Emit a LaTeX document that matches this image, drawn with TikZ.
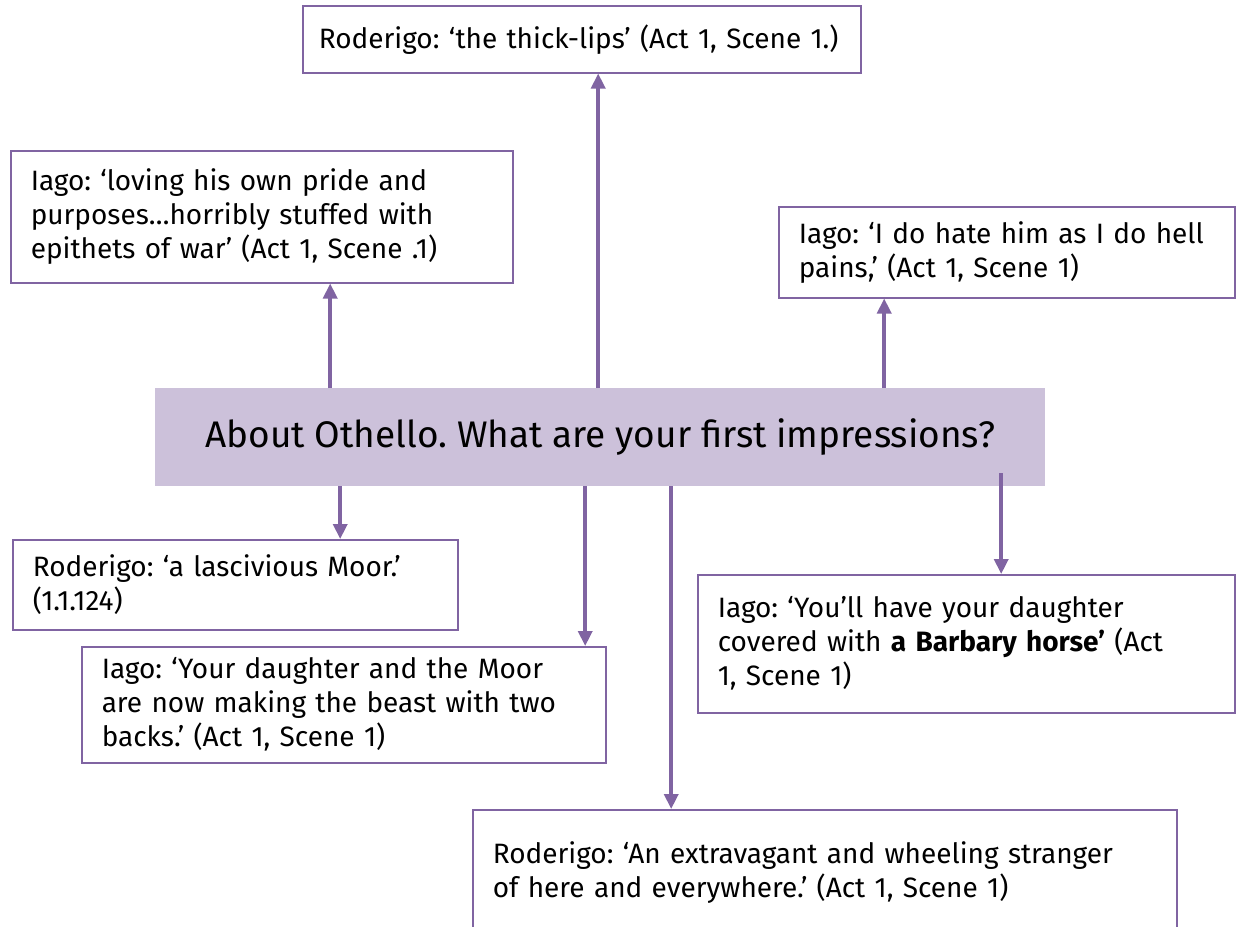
\documentclass[tikz,border=0pt]{standalone}
\usepackage{fontspec}
\setmainfont{Fira Sans}
\usepackage{xcolor}
\usepackage{tikz}
\usetikzlibrary{arrows.meta, positioning}
\frenchspacing
\definecolor{plum}{HTML}{8064A2}
\definecolor{lilac}{HTML}{CCC1DA}
\tikzstyle{quote} = [rectangle, draw=plum, line width=1.5pt, fill=white, anchor=north west, align=left, inner xsep=20pt, inner ysep=0pt, font=\fontsize{28}{34}\selectfont]
\tikzstyle{theme} = [rectangle, fill=lilac, anchor=north west, align=center, inner sep=0pt, font=\fontsize{37}{42}\selectfont]
\tikzstyle{arrow} = [draw=plum, line width=3.5pt, -{Triangle[width=14pt,length=15pt]}]

\begin{document}
\begin{tikzpicture}[x=1pt, y=-1pt]
            \useasboundingbox (0,0) rectangle (1236,926);
            % Nodes
            \node[theme, minimum width=890pt, minimum height=98pt] (about) at (155,388) {About Othello. What are your first impressions?};
            \node[quote, inner xsep=16pt, text width=526pt, minimum height=67pt] (thick) at (302,5) {Roderigo: ‘the thick-lips’ (Act 1, Scene 1.)};
            \node[quote, text width=462pt, minimum height=132pt] (loving) at (10,150) {Iago: ‘loving his own pride and\\purposes…horribly stuffed with\\epithets of war’ (Act 1, Scene .1)};
            \node[quote, text width=416pt, minimum height=91pt] (hate) at (778,206) {Iago: ‘I do hate him as I do hell\\pains,’ (Act 1, Scene 1)};
            \node[quote, text width=405pt, minimum height=90pt] (lascivious) at (12,539) {Roderigo: ‘a lascivious Moor.’\\(1.1.124)};
            \node[quote, text width=484pt, minimum height=116pt] (beast) at (81,646) {Iago: ‘Your daughter and the Moor\\are now making the beast with two\\backs.’ (Act 1, Scene 1)};
            \node[quote, text width=497pt, minimum height=138pt] (barbary) at (697,574) {Iago: ‘You’ll have your daughter\\covered with \textbf{a Barbary horse’} (Act\\1, Scene 1)};
            \node[quote, text width=664pt, minimum height=126pt] (stranger) at (472,809) {Roderigo: ‘An extravagant and wheeling stranger\\of here and everywhere.’ (Act 1, Scene 1)};

            % Edges
            \coordinate (up1) at ([xshift=-2pt]about.north);
            \coordinate (up2) at ([xshift=-270pt]about.north);
            \coordinate (up3) at ([xshift=284pt]about.north);
            \coordinate (down1) at ([xshift=-260pt]about.south);
            \coordinate (down2) at ([xshift=-15pt]about.south);
            \coordinate (down3) at ([xshift=71pt]about.south);
            \coordinate (down4) at ([xshift=401pt, yshift=13pt]about.south);
            \draw[arrow] (up1) -- (up1 |- thick.south);
            \draw[arrow] (up2) -- (up2 |- loving.south);
            \draw[arrow] (up3) -- (up3 |- hate.south);
            \draw[arrow] (down1) -- (down1 |- lascivious.north);
            \draw[arrow] (down2) -- (down2 |- beast.north);
            \draw[arrow] (down3) -- (down3 |- stranger.north);
            \draw[arrow] (down4) -- (down4 |- barbary.north);
        \end{tikzpicture}
\end{document}
